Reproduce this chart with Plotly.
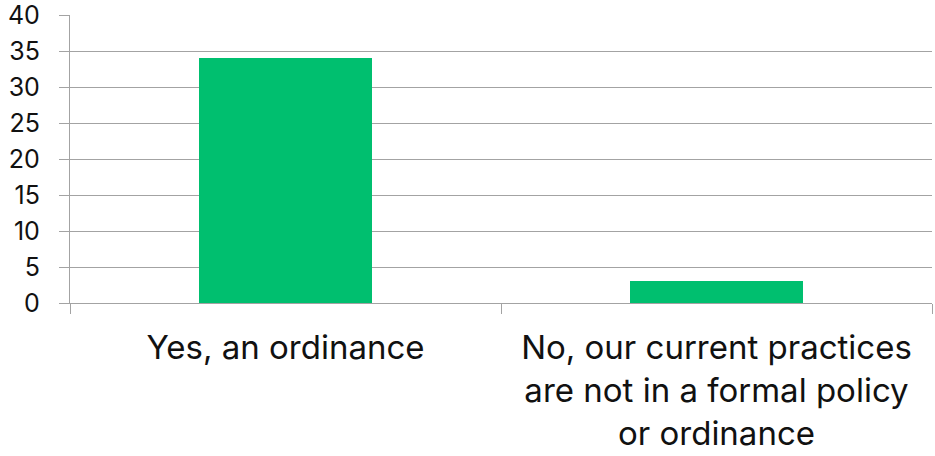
import plotly.graph_objects as go

categories = [
    "Yes, an ordinance",
    "No, our current practices<br>are not in a formal policy<br>or ordinance",
]
counts = [34, 3]
y_ticks = [0, 5, 10, 15, 20, 25, 30, 35, 40]

grid_color = "#A3A3A3"
bar_color = "#00BF6F"

fig = go.Figure(
    go.Bar(
        x=categories,
        y=counts,
        width=0.4,
        marker=dict(color=bar_color, line=dict(width=0)),
    )
)

fig.update_layout(
    width=935,
    height=456,
    margin=dict(l=70, r=3, t=15, b=153),
    paper_bgcolor="white",
    plot_bgcolor="white",
    font=dict(family="Inter, Liberation Sans, Arial, sans-serif", color="#111111"),
    showlegend=False,
    bargap=0,
)

fig.update_yaxes(
    range=[0, 40],
    tickvals=y_ticks,
    showgrid=True,
    gridcolor=grid_color,
    gridwidth=1.3,
    ticks="outside",
    ticklen=10,
    tickcolor=grid_color,
    tickwidth=1.3,
    showline=True,
    linecolor=grid_color,
    linewidth=1.3,
    zeroline=False,
    tickfont=dict(size=25),
    ticklabelstandoff=14,
    ticklabeloverflow="allow",
    automargin=False,
)

fig.update_xaxes(
    type="category",
    range=[-0.5, 1.5],
    showgrid=False,
    tickson="boundaries",
    ticks="outside",
    ticklen=10,
    tickcolor=grid_color,
    tickwidth=1.3,
    showline=True,
    linecolor=grid_color,
    linewidth=1.3,
    tickfont=dict(size=33),
    tickangle=0,
    ticklabelstandoff=15,
    ticklabeloverflow="allow",
    automargin=False,
)

fig.write_html("out.html")
